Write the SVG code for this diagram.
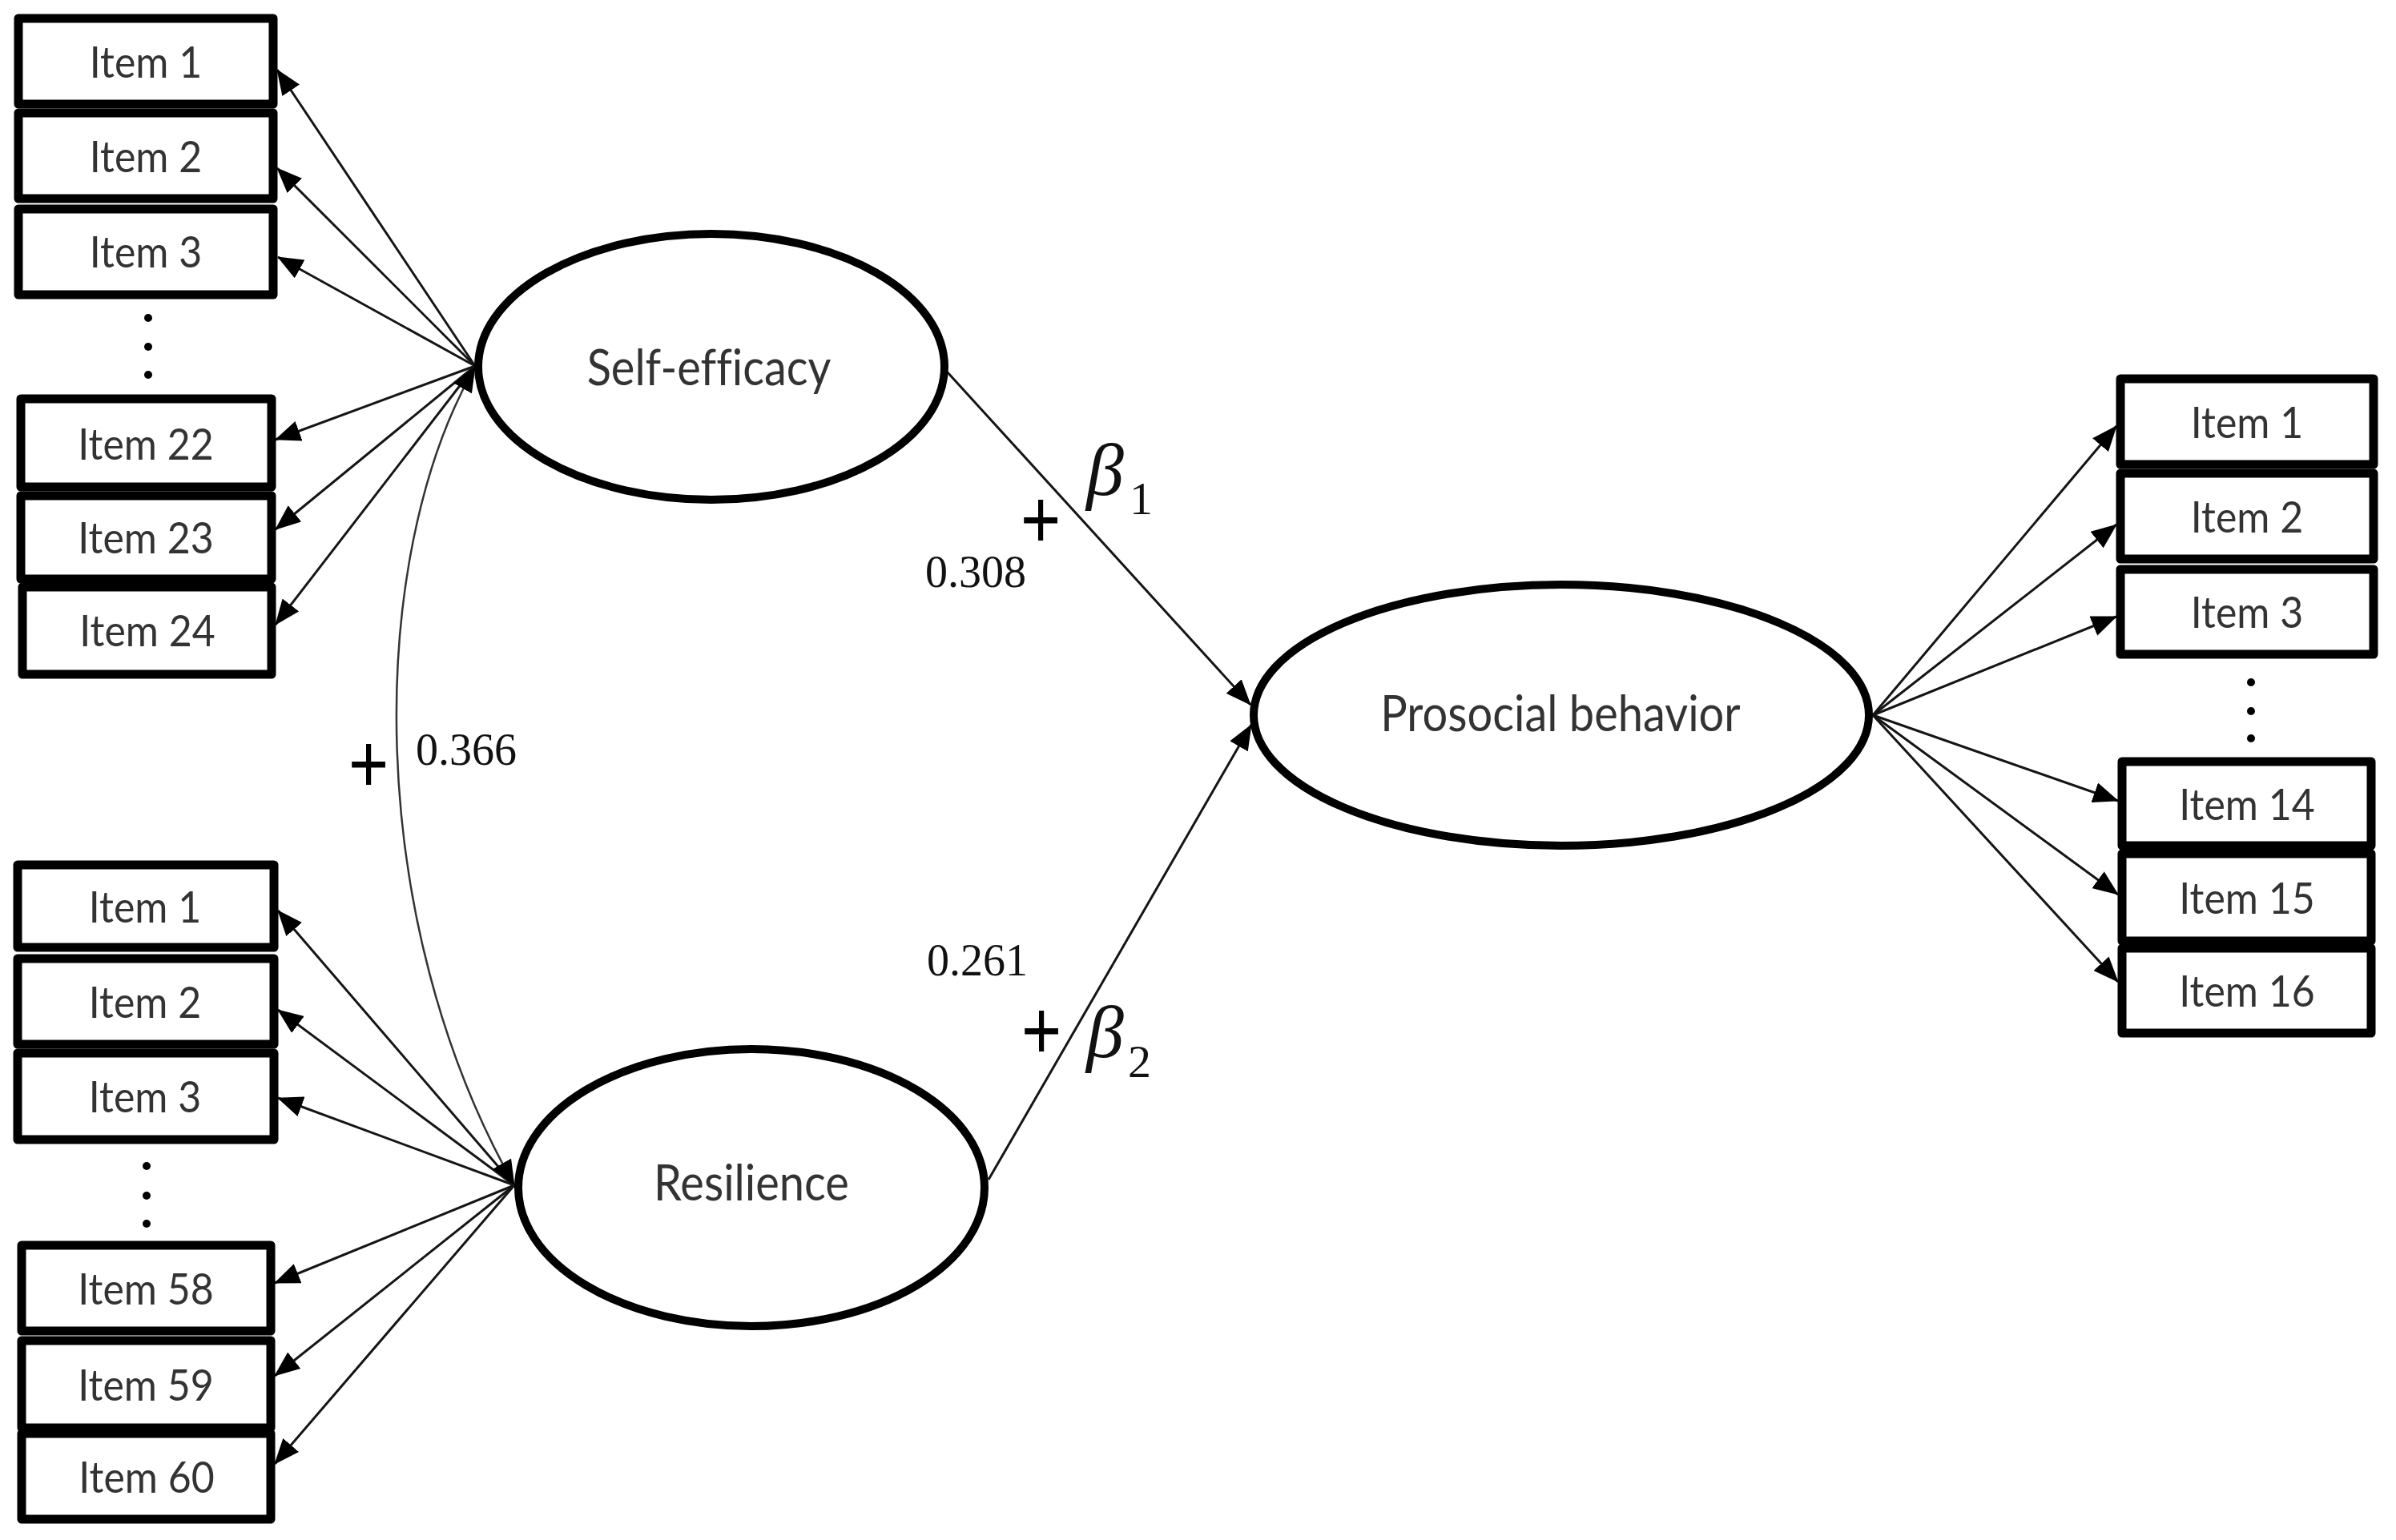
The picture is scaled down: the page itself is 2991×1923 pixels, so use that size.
<svg xmlns="http://www.w3.org/2000/svg" width="2991" height="1923" viewBox="0 0 2991 1923">
<style>
.box{fill:#fff;stroke:#000;stroke-width:11;stroke-linejoin:round}
.it{font-family:Lato,"Liberation Sans",sans-serif;font-size:50px;fill:#333;text-anchor:middle}
.lat{fill:#fff;stroke:#000;stroke-width:10}
.lab{font-family:Lato,"Liberation Sans",sans-serif;font-size:56px;fill:#333;text-anchor:middle;font-variant-ligatures:none}
.ln{stroke:#151515;stroke-width:3;fill:none;marker-end:url(#ah)}
.cv{stroke:#333;stroke-width:2.5;fill:none;marker-start:url(#ah);marker-end:url(#ah)}
.num{font-family:"Liberation Serif",serif;font-size:56px;fill:#111}
.plus{font-family:"Liberation Sans",sans-serif;font-size:86px;fill:#000;text-anchor:middle}
.beta{font-family:"Liberation Serif",serif;font-style:italic;font-size:94px;fill:#111}
.sub{font-family:"Liberation Serif",serif;font-size:58px;fill:#111}
.dot{fill:#000}
</style>
<defs>
<marker id="ah" viewBox="0 0 32 26" refX="31" refY="13" markerWidth="32" markerHeight="26" markerUnits="userSpaceOnUse" orient="auto-start-reverse">
<path d="M0,0 L32,13 L0,26 z" fill="#000"/>
</marker>
</defs>
<rect width="2991" height="1923" fill="#fff"/>

<g id="connectors">
<line class="ln" x1="593" y1="457" x2="346" y2="87"/>
<line class="ln" x1="593" y1="457" x2="346" y2="210"/>
<line class="ln" x1="593" y1="457" x2="347" y2="321"/>
<line class="ln" x1="593" y1="457" x2="344" y2="549"/>
<line class="ln" x1="593" y1="457" x2="344" y2="661"/>
<line class="ln" x1="593" y1="457" x2="344" y2="780"/>
<line class="ln" x1="642" y1="1480" x2="347" y2="1137"/>
<line class="ln" x1="642" y1="1480" x2="347" y2="1261"/>
<line class="ln" x1="642" y1="1480" x2="347" y2="1371"/>
<line class="ln" x1="642" y1="1480" x2="343" y2="1602"/>
<line class="ln" x1="642" y1="1480" x2="343" y2="1718"/>
<line class="ln" x1="642" y1="1480" x2="343" y2="1828"/>
<line class="ln" x1="2338" y1="893" x2="2642" y2="532"/>
<line class="ln" x1="2338" y1="893" x2="2642" y2="655"/>
<line class="ln" x1="2338" y1="893" x2="2642" y2="770"/>
<line class="ln" x1="2338" y1="893" x2="2644" y2="1000"/>
<line class="ln" x1="2338" y1="893" x2="2644" y2="1117"/>
<line class="ln" x1="2338" y1="893" x2="2644" y2="1226"/>
<line class="ln" x1="1182" y1="464" x2="1561" y2="880"/>
<line class="ln" x1="1234" y1="1473" x2="1562" y2="905"/>
<path class="cv" d="M593,458 C455,700 455,1150 642,1480"/>
</g>

<g id="sef-items">
<g id="se-item1"><rect class="box" x="23" y="23" width="318" height="107"/><text class="it" transform="translate(182 97) scale(1 1.1)">Item 1</text></g>
<g id="se-item2"><rect class="box" x="23" y="141" width="318" height="107"/><text class="it" transform="translate(182 215) scale(1 1.1)">Item 2</text></g>
<g id="se-item3"><rect class="box" x="23" y="261" width="318" height="107"/><text class="it" transform="translate(182 334) scale(1 1.1)">Item 3</text></g>
<g id="se-dots"><circle class="dot" cx="185" cy="397" r="5"/><circle class="dot" cx="185" cy="433" r="5"/><circle class="dot" cx="185" cy="468" r="5"/></g>
<g id="se-item22"><rect class="box" x="26" y="498" width="313" height="110"/><text class="it" transform="translate(182 574) scale(1 1.1)">Item 22</text></g>
<g id="se-item23"><rect class="box" x="26" y="619" width="313" height="104"/><text class="it" transform="translate(182 691) scale(1 1.1)">Item 23</text></g>
<g id="se-item24"><rect class="box" x="28" y="733" width="311" height="109"/><text class="it" transform="translate(184 807) scale(1 1.1)">Item 24</text></g>
</g>

<g id="res-items">
<g id="re-item1"><rect class="box" x="22" y="1080" width="320" height="103"/><text class="it" transform="translate(181 1152) scale(1 1.1)">Item 1</text></g>
<g id="re-item2"><rect class="box" x="22" y="1197" width="320" height="107"/><text class="it" transform="translate(181 1271) scale(1 1.1)">Item 2</text></g>
<g id="re-item3"><rect class="box" x="22" y="1315" width="320" height="108"/><text class="it" transform="translate(181 1389) scale(1 1.1)">Item 3</text></g>
<g id="re-dots"><circle class="dot" cx="183" cy="1456" r="5"/><circle class="dot" cx="183" cy="1493" r="5"/><circle class="dot" cx="183" cy="1528" r="5"/></g>
<g id="re-item58"><rect class="box" x="27" y="1555" width="311" height="107"/><text class="it" transform="translate(182 1629) scale(1 1.1)">Item 58</text></g>
<g id="re-item59"><rect class="box" x="27" y="1674" width="311" height="109"/><text class="it" transform="translate(182 1749) scale(1 1.1)">Item 59</text></g>
<g id="re-item60"><rect class="box" x="27" y="1790" width="311" height="107"/><text class="it" transform="translate(183 1864) scale(1 1.1)">Item 60</text></g>
</g>

<g id="pro-items">
<g id="pb-item1"><rect class="box" x="2647" y="473" width="316" height="107"/><text class="it" transform="translate(2805 547) scale(1 1.1)">Item 1</text></g>
<g id="pb-item2"><rect class="box" x="2647" y="591" width="316" height="107"/><text class="it" transform="translate(2805 665) scale(1 1.1)">Item 2</text></g>
<g id="pb-item3"><rect class="box" x="2647" y="711" width="316" height="106"/><text class="it" transform="translate(2805 784) scale(1 1.1)">Item 3</text></g>
<g id="pb-dots"><circle class="dot" cx="2810" cy="852" r="5"/><circle class="dot" cx="2810" cy="888" r="5"/><circle class="dot" cx="2810" cy="922" r="5"/></g>
<g id="pb-item14"><rect class="box" x="2649" y="951" width="311" height="105"/><text class="it" transform="translate(2805 1024) scale(1 1.1)">Item 14</text></g>
<g id="pb-item15"><rect class="box" x="2649" y="1066" width="311" height="109"/><text class="it" transform="translate(2805 1141) scale(1 1.1)">Item 15</text></g>
<g id="pb-item16"><rect class="box" x="2649" y="1184" width="311" height="106"/><text class="it" transform="translate(2805 1257) scale(1 1.1)">Item 16</text></g>
</g>

<g id="self-efficacy"><ellipse class="lat" cx="888" cy="458" rx="291" ry="166"/><text class="lab" transform="translate(885 481) scale(1 1.1)">Self-efficacy</text></g>
<g id="resilience"><ellipse class="lat" cx="938" cy="1483" rx="291" ry="173"/><text class="lab" transform="translate(938 1499) scale(1 1.1)">Resilience</text></g>
<g id="prosocial"><ellipse class="lat" cx="1949" cy="893" rx="384" ry="163"/><text class="lab" transform="translate(1948 913) scale(1 1.1)">Prosocial behavior</text></g>

<g id="labels">
<text class="plus" transform="translate(1299 647) scale(1 1.2)" y="31">+</text>
<text class="plus" transform="translate(1300 1285) scale(1 1.2)" y="31">+</text>
<text class="plus" transform="translate(460 952) scale(1 1.2)" y="31">+</text>
<text class="num" x="1155" y="733">0.308</text>
<text class="num" x="519" y="955">0.366</text>
<text class="num" x="1157" y="1218">0.261</text>
<text class="beta" x="1356" y="618">β</text><text class="sub" x="1410" y="642">1</text>
<text class="beta" x="1356" y="1320">β</text><text class="sub" x="1408" y="1345">2</text>
</g>
</svg>
